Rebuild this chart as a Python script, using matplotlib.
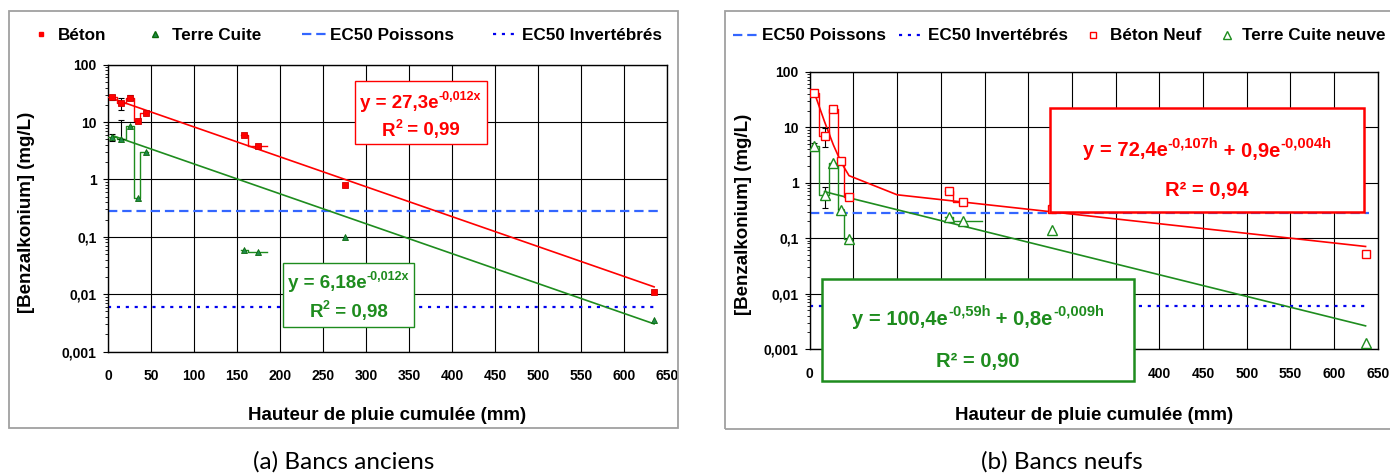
import numpy as np
import matplotlib
matplotlib.use("Agg")
import matplotlib.pyplot as plt
from matplotlib.patches import Rectangle
from matplotlib.lines import Line2D
from matplotlib.ticker import LogLocator, NullFormatter

plt.rcParams['font.family'] = ['Liberation Sans', 'DejaVu Sans']

# ---------------- data ----------------
x_ticks = [0, 50, 100, 150, 200, 250, 300, 350, 400, 450, 500, 550, 600, 650]
y_ticks = [0.001, 0.01, 0.1, 1, 10, 100]
y_ticklabels = ['0,001', '0,01', '0,1', '1', '10', '100']

ec50_poissons = 0.28
ec50_invertebres = 0.006
ec50_x = [0, 640]

# (a) Bancs anciens
old_x = [5, 15, 26, 35, 44, 158, 174, 276, 635]
old_beton = [27, 21.5, 26.5, 10.5, 14.6, 5.9, 3.9, 0.8, 0.011]
old_beton_err = [3, 5, 2.7, 0, 0, 0, 0, 0, 0]
old_terre = [5.4, 5.1, 8.4, 0.48, 3.0, 0.059, 0.055, 0.1, 0.0035]
old_terre_err_low = [0.8, 0, 0, 0, 0, 0, 0, 0, 0]
old_terre_err_up = [0.8, 5.7, 0, 0, 0, 0, 0, 0, 0]
old_edges_1 = [0, 10.4, 21, 30, 37.5, 46]
old_edges_2 = [154.5, 163, 185]
old_fit_beton = (27.3, -0.012)
old_fit_terre = (6.18, -0.012)
old_fit_x = [5, 635]

# (b) Bancs neufs
new_x = [5, 17, 27, 36, 45, 159, 175, 277, 636]
new_beton = [41, 7.0, 21, 2.5, 0.56, 0.71, 0.44, 0.33, 0.052]
new_beton_err = [4.5, 2.6, 1.0, 0.2, 0.05, 0, 0, 0, 0]
new_terre = [4.5, 0.6, 2.3, 0.32, 0.096, 0.245, 0.20, 0.14, 0.0013]
new_terre_err = [0.8, 0.25, 0, 0.02, 0, 0, 0, 0, 0]
new_edges_1 = [3, 10.5, 22, 32.5, 39.5, 48]
new_beton_edges_2 = [155, 164, 179]
new_terre_edges_2 = [155, 164, 197]
new_fit_beton = (72.4, -0.107, 0.9, -0.004)
new_fit_terre = (100.4, -0.59, 0.8, -0.009)
new_fit_beton_h = [5, 17, 27, 36, 45, 100, 636]
new_fit_terre_h = [17, 27, 36, 45, 100, 636]

# ---------------- styles ----------------
RED = '#FF0000'
GREEN = '#1E8C1E'
BLUE_DASH = '#3366FF'
BLUE_DOT = '#0000EE'
W, H = 1390, 474

fig = plt.figure(figsize=(W / 100, H / 100), dpi=100)
renderer = fig.canvas.get_renderer()


def fx(px):
    return px / W


def fy(py):
    return 1 - py / H


def style_axes(ax):
    ax.set_yscale('log')
    ax.set_xlim(0, 650)
    ax.set_ylim(0.001, 100)
    ax.set_xticks(x_ticks)
    ax.set_xticklabels([str(v) for v in x_ticks])
    ax.set_yticks(y_ticks)
    ax.set_yticklabels(y_ticklabels)
    ax.yaxis.set_minor_locator(LogLocator(base=10, subs=np.arange(2, 10)))
    ax.yaxis.set_minor_formatter(NullFormatter())
    ax.tick_params(axis='x', length=0, pad=12.8, labelsize=10)
    ax.tick_params(axis='y', which='major', direction='out', length=3.6, width=0.8, pad=4.5, labelsize=10)
    ax.tick_params(axis='y', which='minor', direction='out', length=2.2, width=0.6)
    for lab in ax.get_xticklabels() + ax.get_yticklabels():
        lab.set_fontweight('bold')
    ax.grid(True, which='major', color='black', linewidth=0.8)
    ax.set_axisbelow(True)
    for sp in ax.spines.values():
        sp.set_color('black')
        sp.set_linewidth(1.0)


def step(ax, xs_edges, vals, color):
    ys = list(vals) + [vals[-1]]
    ax.plot(xs_edges, ys, drawstyle='steps-post', color=color, lw=1.0, zorder=3)


def errbars(ax, x, y, low, up):
    idx = [i for i in range(len(x)) if low[i] > 0 or up[i] > 0]
    ax.errorbar([x[i] for i in idx], [y[i] for i in idx],
                yerr=[[low[i] for i in idx], [up[i] for i in idx]],
                fmt='none', ecolor='black', elinewidth=0.8, capsize=2.5, capthick=0.8, zorder=4)


# ---------------- panel (a) ----------------
axa = fig.add_axes([fx(108), fy(351.5), fx(667) - fx(108), fy(64.7) - fy(351.5)])
style_axes(axa)
axa.plot(ec50_x, [ec50_poissons] * 2, color=BLUE_DASH, lw=1.6, dashes=(4.2, 2.2), zorder=2)
axa.plot(ec50_x, [ec50_invertebres] * 2, color=BLUE_DOT, lw=1.6, dashes=(1.4, 2.6), zorder=2)

fx_old = np.array(old_fit_x, dtype=float)
axa.plot(fx_old, old_fit_beton[0] * np.exp(old_fit_beton[1] * fx_old), color=RED, lw=1.2, zorder=3)
axa.plot(fx_old, old_fit_terre[0] * np.exp(old_fit_terre[1] * fx_old), color=GREEN, lw=1.2, zorder=3)

step(axa, old_edges_1, old_beton[0:5], RED)
step(axa, old_edges_2, old_beton[5:7], RED)
step(axa, old_edges_1, old_terre[0:5], GREEN)
step(axa, old_edges_2, old_terre[5:7], GREEN)
errbars(axa, old_x, old_beton, old_beton_err, old_beton_err)
errbars(axa, old_x, old_terre, old_terre_err_low, old_terre_err_up)
axa.plot(old_x, old_beton, 's', ms=3.8, mfc=RED, mec='#D00000', mew=0.6, zorder=5)
axa.plot(old_x, old_terre, '^', ms=4.2, mfc='#1F8A4A', mec='#0A6A0A', mew=0.6, zorder=5)

# ---------------- panel (b) ----------------
axb = fig.add_axes([fx(809.7), fy(349), fx(1377.8) - fx(809.7), fy(71.8) - fy(349)])
style_axes(axb)
# tick labels hidden under the green equation box in the reference
for lab, v in zip(axb.get_xticklabels(), x_ticks):
    if 0 < v < 400:
        lab.set_visible(False)
axb.plot(ec50_x, [ec50_poissons] * 2, color=BLUE_DASH, lw=1.6, dashes=(4.2, 2.2), zorder=2)
axb.plot(ec50_x, [ec50_invertebres] * 2, color=BLUE_DOT, lw=1.6, dashes=(1.4, 2.6), zorder=2)

hb = np.array(new_fit_beton_h, dtype=float)
a1, k1, a2, k2 = new_fit_beton
axb.plot(hb, a1 * np.exp(k1 * hb) + a2 * np.exp(k2 * hb), color=RED, lw=1.2, zorder=3)
ht = np.array(new_fit_terre_h, dtype=float)
a1, k1, a2, k2 = new_fit_terre
axb.plot(ht, a1 * np.exp(k1 * ht) + a2 * np.exp(k2 * ht), color=GREEN, lw=1.2, zorder=3)

step(axb, new_edges_1, new_beton[0:5], RED)
step(axb, new_beton_edges_2, new_beton[5:7], RED)
step(axb, new_edges_1, new_terre[0:5], GREEN)
step(axb, new_terre_edges_2, new_terre[5:7], GREEN)
errbars(axb, new_x, new_beton, new_beton_err, new_beton_err)
errbars(axb, new_x, new_terre, new_terre_err, new_terre_err)
axb.plot(new_x, new_beton, 's', ms=5.5, mfc='white', mec=RED, mew=1.0, zorder=5)
axb.plot(new_x, new_terre, '^', ms=6.5, mfc='white', mec=GREEN, mew=1.0, zorder=5)

# ---------------- frames ----------------
fig.add_artist(Rectangle((fx(9), fy(428)), fx(678) - fx(9), fy(11) - fy(428),
                         transform=fig.transFigure, fill=False, ec='#A0A0A0', lw=1.3, zorder=0.5))
fig.add_artist(Rectangle((fx(725), fy(429)), fx(1400) - fx(725), fy(11) - fy(429),
                         transform=fig.transFigure, fill=False, ec='#A0A0A0', lw=1.3, zorder=0.5))

# ---------------- legends ----------------
LFS = 12.3


def leg_line(x0, x1, y, **kw):
    fig.add_artist(Line2D([fx(x0), fx(x1)], [fy(y), fy(y)], transform=fig.transFigure, **kw))


def leg_marker(x, y, **kw):
    fig.add_artist(Line2D([fx(x)], [fy(y)], transform=fig.transFigure, ls='none', **kw))


def leg_text(x, y, s):
    fig.text(fx(x), fy(y), s, fontsize=LFS, fontweight='bold', ha='left', va='baseline')


# (a)
leg_marker(40.7, 34, marker='s', ms=3.5, mfc=RED, mec=RED)
leg_text(58, 39.5, 'Béton')
leg_marker(155, 34, marker='^', ms=4, mfc='#1F8A4A', mec='#0A6A0A')
leg_text(172, 39.5, 'Terre Cuite')
leg_line(302, 326, 34, color=BLUE_DASH, lw=1.6, dashes=(4.2, 2.2))
leg_text(330, 39.5, 'EC50 Poissons')
leg_line(493, 519, 34, color=BLUE_DOT, lw=1.6, dashes=(1.4, 2.6))
leg_text(522, 39.5, 'EC50 Invertébrés')
# (b)
leg_line(732.6, 757, 35, color=BLUE_DASH, lw=1.6, dashes=(4.2, 2.2))
leg_text(761.7, 40.5, 'EC50 Poissons')
leg_line(899.4, 923, 35, color=BLUE_DOT, lw=1.6, dashes=(1.4, 2.6))
leg_text(927.7, 40.5, 'EC50 Invertébrés')
leg_marker(1092.5, 35, marker='s', ms=5, mfc='white', mec=RED, mew=1.0)
leg_text(1109.5, 40.5, 'Béton Neuf')
leg_marker(1227, 35, marker='^', ms=5.5, mfc='white', mec=GREEN, mew=1.0)
leg_text(1242.5, 40.5, 'Terre Cuite neuve')

# ---------------- axis labels & captions ----------------
for xc in (387.5, 1093.7):
    fig.text(fx(xc), fy(420), 'Hauteur de pluie cumulée (mm)', fontsize=13.5,
             fontweight='bold', ha='center', va='baseline')
fig.text(fx(27), fy(212.5), '[Benzalkonium] (mg/L)', fontsize=13.5, fontweight='bold',
         rotation=90, ha='center', va='center')
fig.text(fx(743), fy(214), '[Benzalkonium] (mg/L)', fontsize=13.5, fontweight='bold',
         rotation=90, ha='center', va='center')
fig.text(fx(344), fy(469), '(a) Bancs anciens', fontsize=17.5, family=['Lato', 'DejaVu Sans'],
         ha='center', va='baseline')
fig.text(fx(1062), fy(469), '(b) Bancs neufs', fontsize=17.5, family=['Lato', 'DejaVu Sans'],
         ha='center', va='baseline')


# ---------------- equation boxes ----------------
def rich_line(xc, yb, parts, color):
    objs = []
    total = 0.0
    for s, fs, dy in parts:
        t = fig.text(0, 0, s, color=color, fontsize=fs, fontweight='bold',
                     ha='left', va='baseline', zorder=7)
        w = t.get_window_extent(renderer=renderer).width
        objs.append((t, w, dy))
        total += w
    x = xc - total / 2
    for t, w, dy in objs:
        t.set_position((fx(x), fy(yb - dy)))
        x += w


def eq_box(x0, y0, x1, y1, color, lw, lines):
    fig.add_artist(Rectangle((fx(x0), fy(y1)), fx(x1) - fx(x0), fy(y0) - fy(y1),
                             transform=fig.transFigure, fc='white', ec=color, lw=lw, zorder=6))
    xc = (x0 + x1) / 2
    for parts, yb in lines:
        rich_line(xc, yb, parts, color)


eq_box(355, 80.7, 486.7, 144, RED, 1.0,
       [([('y = 27,3e', 13.5, 0), ('-0,012x', 9, 8)], 108),
        ([('R', 13.5, 0), ('2', 9, 8), (' = 0,99', 13.5, 0)], 135.5)])
eq_box(282.7, 262.7, 414.3, 326.7, GREEN, 1.0,
       [([('y = 6,18e', 13.5, 0), ('-0,012x', 9, 8)], 288.5),
        ([('R', 13.5, 0), ('2', 9, 8), (' = 0,98', 13.5, 0)], 317)])
eq_box(1050, 108.3, 1364, 211.7, RED, 1.8,
       [([('y = 72,4e', 14.5, 0), ('-0,107h', 10.5, 9), (' + 0,9e', 14.5, 0),
          ('-0,004h', 10.5, 9)], 156.5),
        ([('R² = 0,94', 14.5, 0)], 196)])
eq_box(821.7, 279, 1134.3, 381, GREEN, 1.8,
       [([('y = 100,4e', 14.5, 0), ('-0,59h', 10.5, 9), (' + 0,8e', 14.5, 0),
          ('-0,009h', 10.5, 9)], 325),
        ([('R² = 0,90', 14.5, 0)], 366.5)])

fig.savefig('out.png', dpi=100)
